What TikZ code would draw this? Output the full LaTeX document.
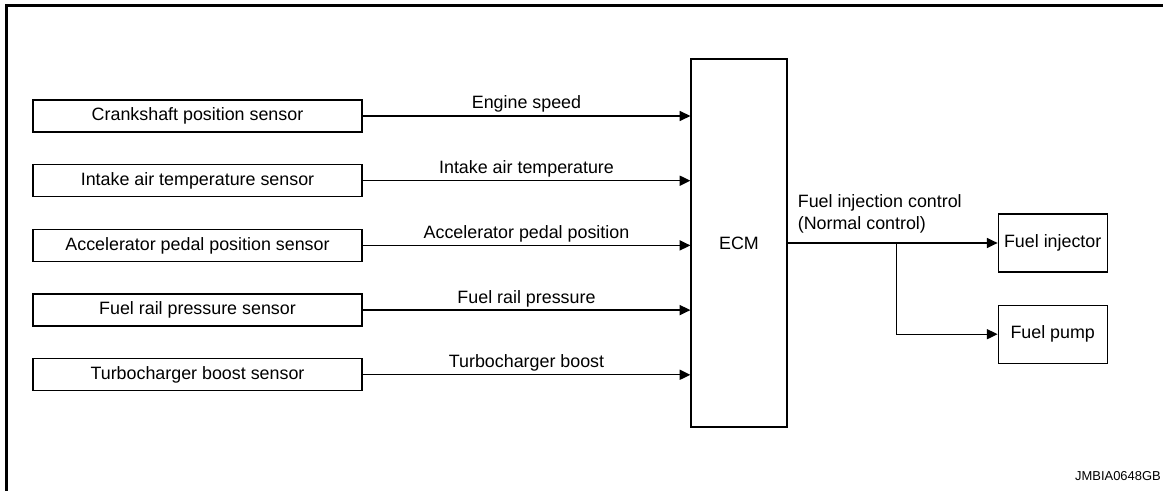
\documentclass[tikz,border=0pt]{standalone}
\usepackage{fontspec}
\setmainfont{Liberation Sans}
\usetikzlibrary{arrows.meta,positioning,calc}
\tikzset{
    >=Triangle,
    sensor/.style={draw, line width=0.9pt, minimum width=246.75pt, minimum height=24pt, inner sep=0pt},
    ecubox/.style={draw, line width=0.9pt, minimum width=72pt, minimum height=276pt, inner sep=0pt},
    actuator/.style={draw, line width=0.9pt, minimum width=81.75pt, minimum height=43.5pt, inner sep=0pt},
    sigarrow/.style={-{Triangle[length=8pt,width=7.5pt]}, line width=1pt},
    siglabel/.style={above, inner sep=2pt},
    frame/.style={line width=2.6pt},
    tag/.style={font=\fontsize{9.7}{11}\selectfont, inner sep=0pt}
}

\begin{document}
\begin{tikzpicture}[x=0.75pt, y=-0.75pt, font=\fontsize{13.4}{16.5}\selectfont, node distance=23.625pt]
\useasboundingbox (0,0) rectangle (1163,491);
\draw[frame] (6.5,491) -- (6.5,5.5) -- (1163,5.5);
% sensors
\node[sensor] (crank) at (197.5,116) {Crankshaft position sensor};
\node[sensor, below=of crank] (intake) {Intake air temperature sensor};
\node[sensor, below=of intake] (accel) {Accelerator pedal position sensor};
\node[sensor, below=of accel] (rail) {Fuel rail pressure sensor};
\node[sensor, below=of rail] (turbo) {Turbocharger boost sensor};
% control unit and actuators
\node[ecubox] (ecm) at (739,243) {ECM};
\node[actuator, right=157.5pt of ecm] (inj) {Fuel injector};
\node[actuator, below=24pt of inj] (pump) {Fuel pump};
% inputs
\draw[sigarrow] (crank.east) -- (crank.east -| ecm.west) node[siglabel, midway] {Engine speed};
\draw[sigarrow] (intake.east) -- (intake.east -| ecm.west) node[siglabel, midway] {Intake air temperature};
\draw[sigarrow] (accel.east) -- (accel.east -| ecm.west) node[siglabel, midway] {Accelerator pedal position};
\draw[sigarrow] (rail.east) -- (rail.east -| ecm.west) node[siglabel, midway] {Fuel rail pressure};
\draw[sigarrow] (turbo.east) -- (turbo.east -| ecm.west) node[siglabel, midway] {Turbocharger boost};
% outputs
\coordinate[right=81.75pt of ecm.east] (split);
\draw[sigarrow] (ecm.east) -- (inj.west);
\draw[sigarrow] (split) |- (pump.west);
\node[anchor=south west, align=left, inner sep=0pt] (ctl) at ([xshift=7.5pt, yshift=7pt]ecm.east) {Fuel injection control\\(Normal control)};
\node[tag, anchor=east] (code) at (1161,476) {JMBIA0648GB};
\end{tikzpicture}
\end{document}
